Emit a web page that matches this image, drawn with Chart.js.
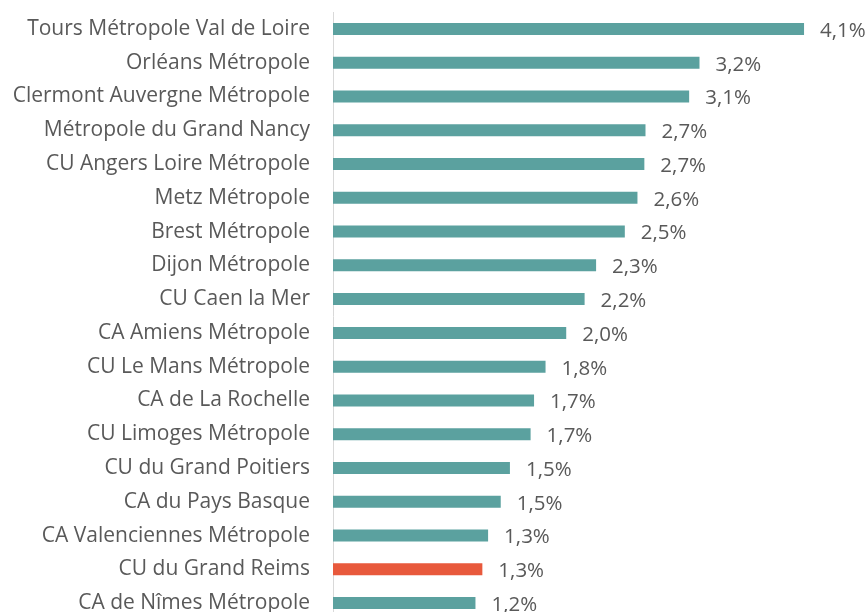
<!DOCTYPE HTML>
<html>
<head>
  <meta charset='utf-8'>
  <title>Collectivités</title>
  <script src='https://cdn.jsdelivr.net/npm/chart.js'></script>
  <style>
    html, body {
      margin: 0;
      padding: 0;
      background-color: #fff;
      overflow: hidden;
      height: 612px;
    }
    .box {
      position: relative;
      width: 868px;
      height: 620px;
    }
  </style>
</head>
<body>
  <div class='box'>
    <canvas id='barChart'></canvas>
  </div>
  <script>
    var categories = [
      'Tours Métropole Val de Loire',
      'Orléans Métropole',
      'Clermont Auvergne Métropole',
      'Métropole du Grand Nancy',
      'CU Angers Loire Métropole',
      'Metz Métropole',
      'Brest Métropole',
      'Dijon Métropole',
      'CU Caen la Mer',
      'CA Amiens Métropole',
      'CU Le Mans Métropole',
      'CA de La Rochelle',
      'CU Limoges Métropole',
      'CU du Grand Poitiers',
      'CA du Pays Basque',
      'CA Valenciennes Métropole',
      'CU du Grand Reims',
      'CA de Nîmes Métropole'
    ];
    // longueur des barres
    var values = [4.10, 3.19, 3.10, 2.72, 2.71, 2.65, 2.54, 2.29, 2.19, 2.03, 1.85, 1.75, 1.72, 1.54, 1.46, 1.35, 1.30, 1.24];
    // étiquettes affichées
    var valueLabels = ['4,1%', '3,2%', '3,1%', '2,7%', '2,7%', '2,6%', '2,5%', '2,3%', '2,2%', '2,0%', '1,8%', '1,7%', '1,7%', '1,5%', '1,5%', '1,3%', '1,3%', '1,2%'];
    var highlight = 'CU du Grand Reims';

    var colors = categories.map(function(c) {
      return c === highlight ? '#E8593C' : '#5BA19F';
    });

    var labelPlugin = {
      id: 'valueLabels',
      afterDatasetsDraw: function(chart) {
        var ctx = chart.ctx;
        var meta = chart.getDatasetMeta(0);
        ctx.save();
        ctx.font = '20.5px "Open Sans"';
        ctx.fillStyle = '#595959';
        ctx.textAlign = 'left';
        ctx.textBaseline = 'middle';
        meta.data.forEach(function(bar, i) {
          ctx.fillText(valueLabels[i], bar.x + 16, bar.y + 2);
        });
        ctx.restore();
      }
    };

    var ctx = document.getElementById('barChart').getContext('2d');
    var barChart = new Chart(ctx, {
      type: 'bar',
      data: {
        labels: categories,
        datasets: [{
          data: values,
          backgroundColor: colors,
          barPercentage: 0.356,
          categoryPercentage: 1
        }]
      },
      plugins: [labelPlugin],
      options: {
        indexAxis: 'y',
        responsive: true,
        maintainAspectRatio: false,
        animation: false,
        layout: {
          padding: { top: 12, right: 18, bottom: 0, left: 0 }
        },
        plugins: {
          legend: { display: false },
          tooltip: { enabled: false }
        },
        scales: {
          x: {
            display: false,
            min: 0,
            max: 4.5
          },
          y: {
            afterFit: function(scale) {
              scale.width = 333; // axe vertical à x = 333
              scale.paddingTop = 0;
              scale.paddingBottom = 0;
            },
            grid: { display: false, drawTicks: false },
            border: { display: true, color: '#D9D9D9', width: 1 },
            ticks: {
              padding: 23,
              color: '#595959',
              font: { family: 'Open Sans', size: 21 }
            }
          }
        }
      }
    });
  </script>
</body>
</html>
